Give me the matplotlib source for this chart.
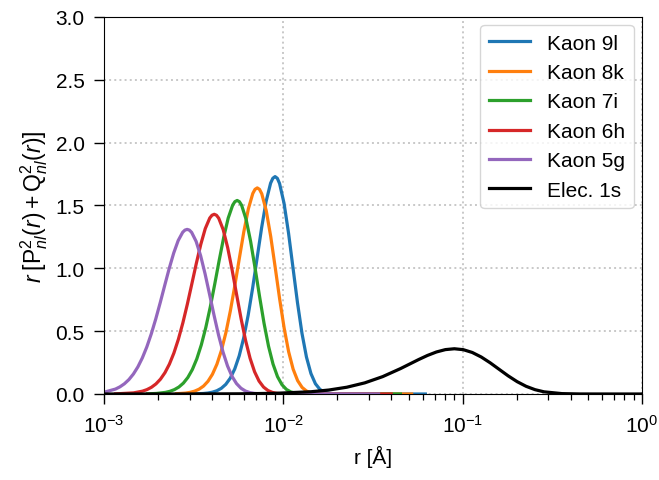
import matplotlib.pyplot as plt

plt.rcParams['font.family'] = ['Liberation Sans', 'DejaVu Sans']
plt.rcParams['mathtext.fontset'] = 'custom'
plt.rcParams['mathtext.rm'] = 'Liberation Sans'
plt.rcParams['mathtext.it'] = 'Liberation Sans:italic'
plt.rcParams['mathtext.bf'] = 'Liberation Sans:bold'

# radial densities (r in Angstrom)
r_9l = [0.0031933, 0.0035830, 0.0037953, 0.0040201, 0.0042584, 0.0045107, 0.0047779,
        0.0050611, 0.0053609, 0.0056786, 0.0060151, 0.0063716, 0.0067490, 0.0071490,
        0.0075726, 0.0080213, 0.0084965, 0.0087447, 0.0090, 0.0092628, 0.0095333,
        0.010098, 0.010697, 0.011330, 0.012002, 0.012713, 0.013466, 0.014264, 0.015109,
        0.016005, 0.016953, 0.017957, 0.019021, 0.020148, 0.062]
y_9l = [0.0010, 0.0040, 0.0077, 0.0143, 0.0257, 0.0451, 0.0766, 0.1257, 0.1993, 0.3042,
        0.4465, 0.6279, 0.8450, 1.0844, 1.3236, 1.5325, 1.6775, 1.7166, 1.73, 1.7163,
        1.6753, 1.5177, 1.2811, 1.0034, 0.7260, 0.4830, 0.2940, 0.1628, 0.0816, 0.0368,
        0.0148, 0.0053, 0.0017, 0.0003, 0.0]

r_8k = [0.0025404, 0.0028505, 0.0030194, 0.0031982, 0.0033878, 0.0035885, 0.0038011,
        0.0040264, 0.0042649, 0.0045177, 0.0047853, 0.0050689, 0.0053692, 0.0056874,
        0.0060244, 0.0063814, 0.0067595, 0.0069569, 0.00716, 0.0073691, 0.0075842,
        0.0080337, 0.0085097, 0.0090139, 0.0095480, 0.010114, 0.010713, 0.011348,
        0.012020, 0.012733, 0.013487, 0.014286, 0.015133, 0.016029, 0.052]
y_8k = [0.0021, 0.0072, 0.0129, 0.0224, 0.0380, 0.0627, 0.1008, 0.1571, 0.2372, 0.3463,
        0.4881, 0.6622, 0.8638, 1.0797, 1.2907, 1.4714, 1.5955, 1.6286, 1.64, 1.6284,
        1.5936, 1.4588, 1.2535, 1.0074, 0.7542, 0.5237, 0.3358, 0.1980, 0.1067, 0.0523,
        0.0232, 0.0093, 0.0033, 0.0010, 0.0]

r_7i = [0.0017487, 0.0019621, 0.0022015, 0.0023320, 0.0024701, 0.0026165, 0.0027716,
        0.0029358, 0.0031097, 0.0032940, 0.0034892, 0.0036959, 0.0039150, 0.0041469,
        0.0043926, 0.0046529, 0.0049286, 0.0052207, 0.0053731, 0.00553, 0.0056915,
        0.0058577, 0.0062048, 0.0065724, 0.0069619, 0.0073744, 0.0078113, 0.0082742,
        0.0087644, 0.0092838, 0.0098339, 0.010417, 0.011034, 0.011688, 0.012380,
        0.013114, 0.045]
y_7i = [0.0014, 0.0044, 0.0128, 0.0214, 0.0349, 0.0555, 0.0865, 0.1314, 0.1943, 0.2797,
        0.3905, 0.5285, 0.6919, 0.8747, 1.0649, 1.2466, 1.3995, 1.5030, 1.5306, 1.54,
        1.5304, 1.5015, 1.3888, 1.2149, 1.0018, 0.7759, 0.5624, 0.3800, 0.2384, 0.1382,
        0.0737, 0.0360, 0.0160, 0.0064, 0.0023, 0.0008, 0.0]

r_6h = [0.0011612, 0.0014618, 0.0016402, 0.0017374, 0.0018403, 0.0019494, 0.0020649,
        0.0021872, 0.0023168, 0.0024541, 0.0025996, 0.0027536, 0.0029168, 0.0030895,
        0.0032726, 0.0034666, 0.0036720, 0.0038895, 0.0040031, 0.00412, 0.0042403,
        0.0043641, 0.0046227, 0.0048966, 0.0051868, 0.0054941, 0.0058197, 0.0061645,
        0.0065297, 0.0069167, 0.0073265, 0.0077606, 0.0082205, 0.0087076, 0.0092235,
        0.0097700, 0.010349, 0.040]
y_6h = [0.0010, 0.0089, 0.0226, 0.0351, 0.0536, 0.0803, 0.1179, 0.1694, 0.2378, 0.3260,
        0.4354, 0.5660, 0.7148, 0.8759, 1.0388, 1.1906, 1.3162, 1.4001, 1.4224, 1.43,
        1.4223, 1.3989, 1.3074, 1.1643, 0.9851, 0.7894, 0.5974, 0.4252, 0.2839, 0.1770,
        0.1026, 0.0551, 0.0273, 0.0124, 0.0051, 0.0019, 0.0007, 0.0]

r_5g = [0.0010, 0.0011585, 0.0012271, 0.0012998, 0.0013769, 0.0014585, 0.0015449,
        0.0016364, 0.0017334, 0.0018361, 0.0019449, 0.0020601, 0.0021822, 0.0023115,
        0.0024485, 0.0025935, 0.0027472, 0.0028274, 0.00291, 0.0029950, 0.0030824,
        0.0032651, 0.0034585, 0.0036635, 0.0038805, 0.0041105, 0.0043541, 0.0046120,
        0.0048853, 0.0051748, 0.0054814, 0.0058062, 0.0061503, 0.0065147, 0.0069007,
        0.0073096, 0.034]
y_5g = [0.0141, 0.0392, 0.0569, 0.0814, 0.1146, 0.1586, 0.2154, 0.2872, 0.3749, 0.4789,
        0.5980, 0.7285, 0.8652, 0.9995, 1.1219, 1.2212, 1.2869, 1.3041, 1.31, 1.3040,
        1.2859, 1.2144, 1.1009, 0.9557, 0.7924, 0.6259, 0.4694, 0.3335, 0.2236, 0.1410,
        0.0833, 0.0460, 0.0236, 0.0112, 0.0049, 0.0020, 0.0]

r_1s = [0.0010, 0.0028461, 0.0056786, 0.0090, 0.014264, 0.017957, 0.022607, 0.028461,
        0.035830, 0.045107, 0.056786, 0.063716, 0.071490, 0.080213, 0.090, 0.10098,
        0.11330, 0.12713, 0.14264, 0.16005, 0.17957, 0.20148, 0.22607, 0.25365,
        0.28461, 0.35830, 0.45107, 0.71490, 1.0]
y_1s = [0.0, 0.0002, 0.0015, 0.0054, 0.0179, 0.0316, 0.0539, 0.0885, 0.1382, 0.2024,
        0.2736, 0.3068, 0.3344, 0.3532, 0.36, 0.3526, 0.3303, 0.2943, 0.2479, 0.1960,
        0.1444, 0.0983, 0.0612, 0.0344, 0.0173, 0.0030, 0.0003, 0.0, 0.0]

curves = [
    (r_9l, y_9l, 'Kaon 9l', 'tab:blue'),
    (r_8k, y_8k, 'Kaon 8k', 'tab:orange'),
    (r_7i, y_7i, 'Kaon 7i', 'tab:green'),
    (r_6h, y_6h, 'Kaon 6h', 'tab:red'),
    (r_5g, y_5g, 'Kaon 5g', 'tab:purple'),
    (r_1s, y_1s, 'Elec. 1s', 'black'),
]

fig = plt.figure(figsize=(6.59, 4.81), dpi=100)
ax = fig.add_axes([0.1578, 0.1788, 0.8162, 0.7838])

for r, y, lab, col in curves:
    ax.plot(r, y, color=col, lw=2.3, label=lab)

ax.set_xscale('log')
ax.set_xlim(1e-3, 1)
ax.set_ylim(0, 3)
ax.set_yticks([0, 0.5, 1.0, 1.5, 2.0, 2.5, 3.0])
ax.grid(True, which='major', ls=':', color='#c8c8c8', lw=1.4)
ax.tick_params(labelsize=15)
ax.tick_params(which='major', length=7, width=1)
ax.tick_params(which='minor', length=4, width=0.9)
ax.tick_params(axis='y', which='major', pad=7)
ax.tick_params(axis='x', which='major', pad=7)

ax.set_xlabel(r'r [Å]', fontsize=15, labelpad=7)
ax.set_ylabel(r'$r\;[\mathrm{P}^2_{nl}(r) + \mathrm{Q}^2_{nl}(r)]$', fontsize=16.5, labelpad=4)

ax.legend(loc='upper right', fontsize=15, handlelength=2.0, labelspacing=0.5,
          borderaxespad=0.4)

fig.savefig('out.png', dpi=100)
